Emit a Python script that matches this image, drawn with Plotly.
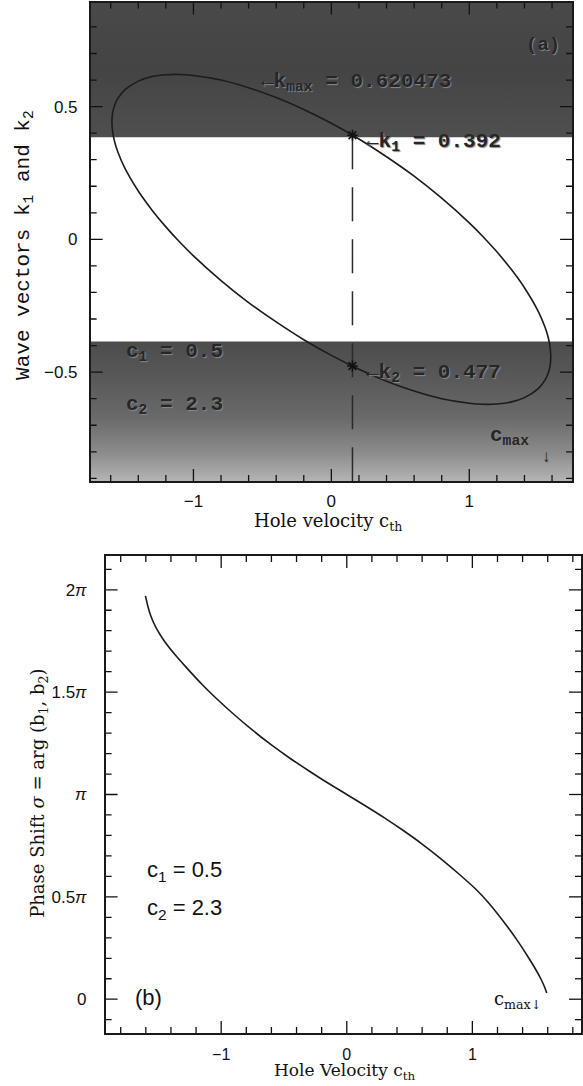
import plotly.graph_objects as go

W, H = 583, 1086

# ---------------- Panel (a): wave vectors vs hole velocity ----------------
ell_c = [-1.591, -1.585, -1.57, -1.55, -1.5, -1.4, -1.3, -1.2, -1.1, -1.0, -0.8, -0.6, -0.4, -0.2,
         0.0, 0.2, 0.4, 0.6, 0.8, 1.0, 1.1, 1.2, 1.3, 1.4, 1.5, 1.55, 1.57, 1.585, 1.591,
         1.585, 1.57, 1.55, 1.5, 1.4, 1.3, 1.2, 1.1, 1.0, 0.8, 0.6, 0.4, 0.2,
         0.0, -0.2, -0.4, -0.6, -0.8, -1.0, -1.1, -1.2, -1.3, -1.4, -1.5, -1.55, -1.57, -1.585, -1.591]
ell_k = [0.442, 0.479, 0.507, 0.529, 0.562, 0.596, 0.613, 0.620, 0.621, 0.617, 0.600, 0.571, 0.534, 0.489,
         0.437, 0.378, 0.311, 0.238, 0.155, 0.062, 0.010, -0.047, -0.110, -0.182, -0.271, -0.332, -0.365, -0.402, -0.442,
         -0.479, -0.507, -0.529, -0.562, -0.596, -0.613, -0.620, -0.621, -0.617, -0.600, -0.571, -0.534, -0.489,
         -0.437, -0.378, -0.311, -0.238, -0.155, -0.062, -0.010, 0.047, 0.110, 0.182, 0.271, 0.332, 0.365, 0.402, 0.442]

c_th = 0.153
k1 = 0.392
k2 = -0.477
band_edge = 0.385
xr_a = [-1.745, 1.745]
yr_a = [-0.91, 0.892]
xa_tickvals = [-1, 0, 1]
xa_ticktext = ["−1", "0", "1"]
xa_minor = [-1.6, -1.4, -1.2, -0.8, -0.6, -0.4, -0.2, 0.2, 0.4, 0.6, 0.8, 1.2, 1.4, 1.6]
ya_tickvals = [-0.5, 0, 0.5]
ya_ticktext = ["−0.5", "0", "0.5"]
ya_minor = [-0.9, -0.8, -0.7, -0.6, -0.4, -0.3, -0.2, -0.1, 0.1, 0.2, 0.3, 0.4, 0.6, 0.7, 0.8]

# ---------------- Panel (b): phase shift vs hole velocity ----------------
ph_c = [-1.603, -1.60, -1.585, -1.56, -1.52, -1.46, -1.38, -1.28, -1.15, -1.04, -0.90, -0.75, -0.60,
        -0.45, -0.30, -0.15, 0.0, 0.15, 0.30, 0.45, 0.60, 0.75, 0.90, 1.04, 1.13, 1.26, 1.36, 1.44,
        1.50, 1.545, 1.575, 1.592]
ph_sigma_over_pi = [1.970, 1.962, 1.922, 1.872, 1.816, 1.756, 1.692, 1.622, 1.536, 1.470, 1.392, 1.314, 1.242,
                    1.176, 1.115, 1.056, 1.000, 0.944, 0.886, 0.824, 0.758, 0.686, 0.608, 0.530, 0.470, 0.370,
                    0.285, 0.210, 0.150, 0.100, 0.060, 0.030]
xr_b = [-1.92, 1.865]
yr_b = [-0.165, 2.165]
xb_tickvals = [-1, 0, 1]
xb_ticktext = ["−1", "0", "1"]
xb_minor = [-1.8, -1.6, -1.4, -1.2, -0.8, -0.6, -0.4, -0.2, 0.2, 0.4, 0.6, 0.8, 1.2, 1.4, 1.6, 1.8]
yb_tickvals = [0, 0.5, 1, 1.5, 2]
yb_ticktext = ["0", "0.5<i>π</i>", "<i>π</i>", "1.5<i>π</i>", "2<i>π</i>"]
yb_minor = [-0.1, 0.1, 0.2, 0.3, 0.4, 0.6, 0.7, 0.8, 0.9, 1.1, 1.2, 1.3, 1.4, 1.6, 1.7, 1.8, 1.9, 2.1]

# plot-area pixel boxes (left, right, top, bottom)
box_a = (91, 574, 2.5, 481)
box_b = (106, 583, 556, 1033)


def px(x):
    return x / W


def py(y):
    return 1 - y / H


fig = go.Figure()

# shaded bands (panel a)
fig.add_trace(go.Scatter(
    x=[xr_a[0], xr_a[1], xr_a[1], xr_a[0], xr_a[0]],
    y=[band_edge, band_edge, yr_a[1], yr_a[1], band_edge],
    fill="toself", mode="lines", line=dict(width=0),
    fillgradient=dict(type="vertical", colorscale=[[0, "#4f4f4f"], [0.5, "#444444"], [1, "#494949"]]),
    hoverinfo="skip", showlegend=False, xaxis="x", yaxis="y"))
fig.add_trace(go.Scatter(
    x=[xr_a[0], xr_a[1], xr_a[1], xr_a[0], xr_a[0]],
    y=[yr_a[0], yr_a[0], -band_edge, -band_edge, yr_a[0]],
    fill="toself", mode="lines", line=dict(width=0),
    fillgradient=dict(type="vertical", colorscale=[[0, "#b4b4b4"], [0.2, "#8c8c8c"], [0.45, "#6a6a6a"],
                                                    [0.75, "#585858"], [1, "#4c4c4c"]]),
    hoverinfo="skip", showlegend=False, xaxis="x", yaxis="y"))

# dashed vertical line
fig.add_trace(go.Scatter(
    x=[c_th, c_th], y=[k1, yr_a[0]], mode="lines",
    line=dict(color="#2a2a2a", width=1.5, dash="34px,18px"),
    hoverinfo="skip", showlegend=False, xaxis="x", yaxis="y"))

# ellipse
fig.add_trace(go.Scatter(
    x=ell_c, y=ell_k, mode="lines",
    line=dict(color="#1c1c1c", width=1.6, shape="spline", smoothing=0.8),
    showlegend=False, xaxis="x", yaxis="y"))

# markers k1, k2
fig.add_trace(go.Scatter(
    x=[c_th, c_th], y=[k1, k2], mode="markers",
    marker=dict(symbol="asterisk-open", size=9, color="#111",
                line=dict(width=1.6, color="#111")),
    showlegend=False, xaxis="x", yaxis="y"))

# phase shift curve
fig.add_trace(go.Scatter(
    x=ph_c, y=ph_sigma_over_pi, mode="lines",
    line=dict(color="#1c1c1c", width=1.6, shape="spline", smoothing=0.8),
    showlegend=False, xaxis="x2", yaxis="y2"))


# inward tick marks on all four sides, placed through the axes' own data scales
def frame_ticks(xr, yr, box, xmaj, xmin, ymaj, ymin, xa, ya, major_px=12, minor_px=6):
    l, r, t, b = box
    ux = (xr[1] - xr[0]) / (r - l)   # data units per pixel
    uy = (yr[1] - yr[0]) / (b - t)
    xs, ys = [], []
    for vals, n in ((xmaj, major_px), (xmin, minor_px)):
        for v in vals:
            xs += [v, v, None, v, v, None]
            ys += [yr[0], yr[0] + n * uy, None, yr[1], yr[1] - n * uy, None]
    for vals, n in ((ymaj, major_px), (ymin, minor_px)):
        for v in vals:
            xs += [xr[0], xr[0] + n * ux, None, xr[1], xr[1] - n * ux, None]
            ys += [v, v, None, v, v, None]
    fig.add_trace(go.Scatter(x=xs, y=ys, mode="lines", cliponaxis=False,
                             line=dict(color="#111", width=1.3),
                             hoverinfo="skip", showlegend=False, xaxis=xa, yaxis=ya))


frame_ticks(xr_a, yr_a, box_a, xa_tickvals, xa_minor, ya_tickvals, ya_minor, "x", "y")
frame_ticks(xr_b, yr_b, box_b, xb_tickvals, xb_minor, yb_tickvals, yb_minor, "x2", "y2")

line = dict(showline=True, linecolor="#1a1a1a", linewidth=1.5, mirror=True,
            showgrid=False, zeroline=False, ticks="")

fa = dict(family="Liberation Sans", size=17, color="#111")
fb = dict(family="Liberation Sans", size=16, color="#111")

fig.update_layout(
    width=W, height=H,
    margin=dict(l=0, r=0, t=0, b=0),
    paper_bgcolor="white", plot_bgcolor="white",
    showlegend=False,
    xaxis=dict(domain=[px(box_a[0]), px(box_a[1])], range=xr_a, anchor="y",
               tickmode="array", tickvals=xa_tickvals, ticktext=xa_ticktext, tickfont=fa,
               ticklabelstandoff=4, **line),
    yaxis=dict(domain=[py(box_a[3]), py(box_a[2])], range=yr_a, anchor="x",
               tickmode="array", tickvals=ya_tickvals, ticktext=ya_ticktext, tickfont=fa,
               ticklabelstandoff=8, **line),
    xaxis2=dict(domain=[px(box_b[0]), px(box_b[1])], range=xr_b, anchor="y2",
                tickmode="array", tickvals=xb_tickvals, ticktext=xb_ticktext, tickfont=fb,
                ticklabelstandoff=6, **line),
    yaxis2=dict(domain=[py(box_b[3]), py(box_b[2])], range=yr_b, anchor="x2",
                tickmode="array", tickvals=yb_tickvals, ticktext=yb_ticktext, tickfont=fa,
                ticklabelstandoff=14, **line),
)

emb = dict(family="Liberation Mono", size=21, color="#262626", weight="bold",
           shadow="1px 1px 1px #8a8a8a")


def ann(text, x, y, font, xanchor="left", yanchor="middle", angle=0):
    fig.add_annotation(text=text, x=px(x), y=py(y), xref="paper", yref="paper",
                       xanchor=xanchor, yanchor=yanchor, showarrow=False,
                       font=font, textangle=angle)


ann("(a)", 545, 45, dict(emb, size=19), xanchor="center")
ann("←k<sub>max</sub> = 0.620473", 260, 82, emb)
ann("←k<sub>1</sub> = 0.392", 365, 142, emb)
ann("←k<sub>2</sub> = 0.477", 365, 373, emb)
ann("c<sub>1</sub> = 0.5", 124, 352, emb)
ann("c<sub>2</sub> = 2.3", 124, 405, emb)
ann("c<sub>max</sub>", 490, 436, emb)
ann("↓", 548, 457, dict(emb, size=17), xanchor="center")

sans = dict(family="Liberation Sans", size=22, color="#111")
ann("c<sub>1</sub> = 0.5", 145, 871, sans)
ann("c<sub>2</sub> = 2.3", 145, 909, sans)
ann("(b)", 133, 997, sans)
ann("c<sub>max↓</sub>", 494, 1000, dict(family="DejaVu Serif", size=18, color="#111"))

serif = dict(family="DejaVu Serif", size=18, color="#111")
ann("Hole velocity c<sub>th</sub>", 329, 522, serif, xanchor="center")
ann("Hole Velocity c<sub>th</sub>", 346, 1071, dict(serif, size=17), xanchor="center")
ann("Wave vectors k<sub>1</sub> and k<sub>2</sub>", 24, 245,
    dict(family="Liberation Mono", size=21, color="#111"), xanchor="center", angle=-90)
ann("Phase Shift <i>σ</i> = arg (b<sub>1</sub>, b<sub>2</sub>)", 39, 793, serif,
    xanchor="center", angle=-90)

fig.write_html("out.html")
